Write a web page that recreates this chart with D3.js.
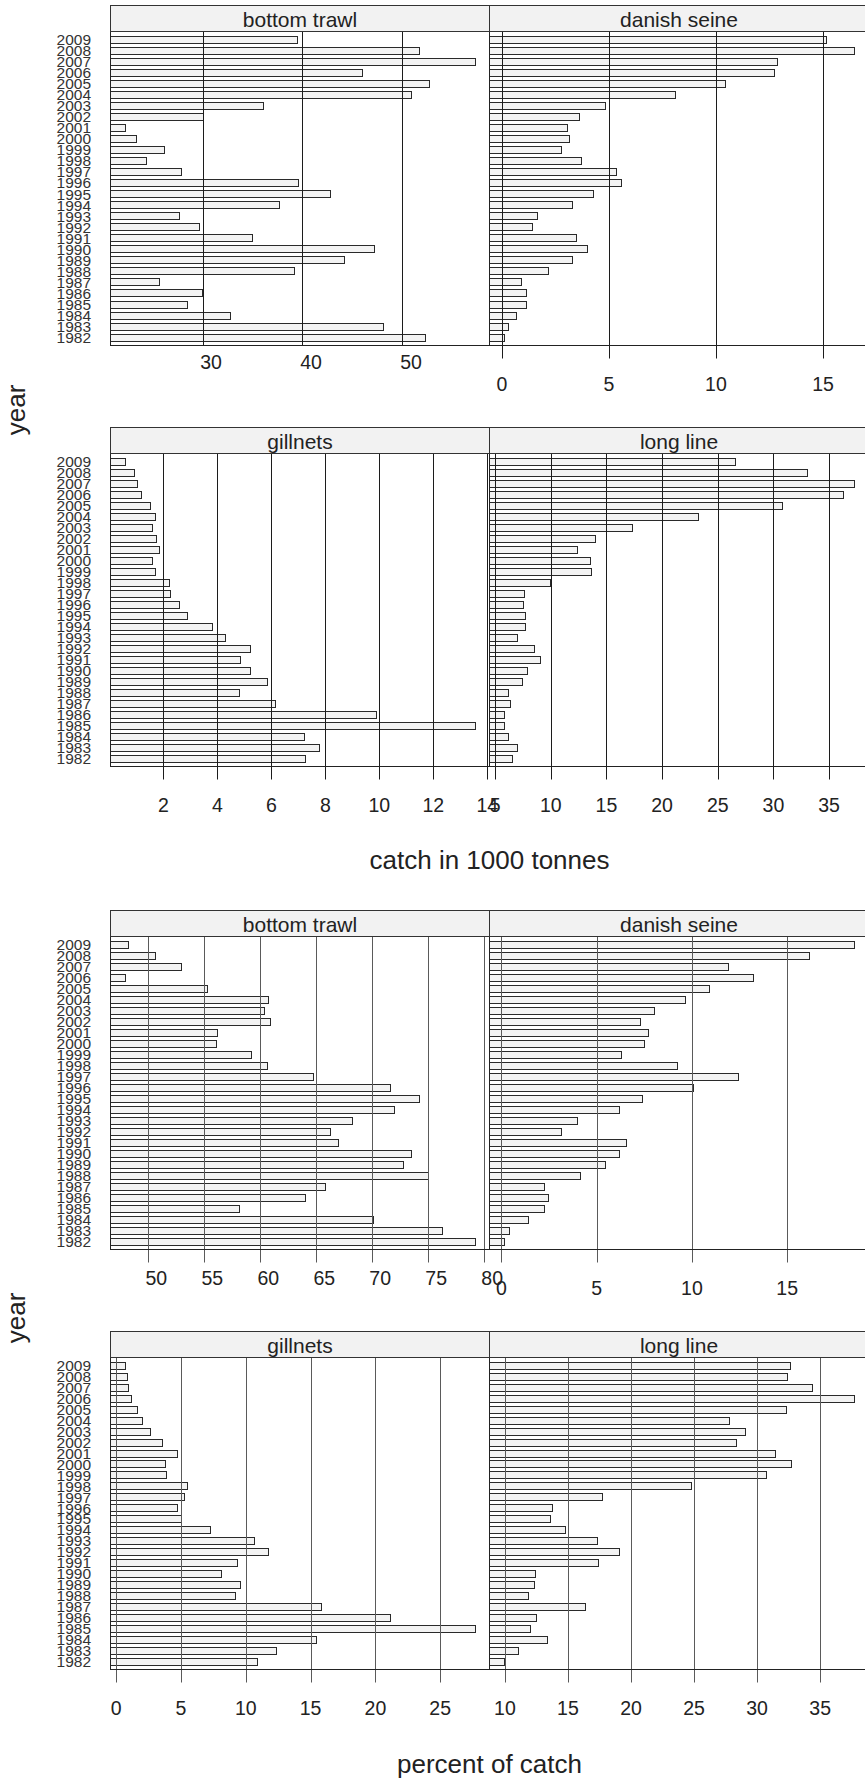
<!DOCTYPE html>
<html>
<head>
<meta charset="utf-8">
<script src="https://cdn.jsdelivr.net/npm/d3@7"></script>
<style>
  html, body { margin: 0; background: #fff; }
  svg { display: block; font-family: "Liberation Sans", Arial, Helvetica, sans-serif; }
</style>
</head>
<body>
<svg id="chart" width="865" height="1781"></svg>
<script>
// Years, listed top to bottom as they appear in every panel
const years = ["2009","2008","2007","2006","2005","2004","2003","2002","2001","2000",
               "1999","1998","1997","1996","1995","1994","1993","1992","1991","1990",
               "1989","1988","1987","1986","1985","1984","1983","1982"];

const gears = ["bottom trawl", "danish seine", "gillnets", "long line"];

// Catch in 1000 tonnes by gear (2009 -> 1982)
const catchBottomTrawl = [39.4,51.7,57.3,46.0,52.7,50.9,36.0,30.0,22.2,23.3,26.1,24.3,27.8,39.5,42.8,37.6,27.6,29.6,34.9,47.2,44.2,39.1,25.6,29.9,28.4,32.7,48.1,52.3];
const catchDanishSeine = [15.13,16.47,12.87,12.69,10.43,8.07,4.82,3.62,3.06,3.14,2.78,3.72,5.32,5.55,4.26,3.27,1.62,1.40,3.45,3.96,3.28,2.16,0.89,1.14,1.14,0.65,0.28,0.08];
const catchGillnets    = [0.56,0.90,1.04,1.17,1.52,1.70,1.58,1.74,1.85,1.58,1.70,2.19,2.26,2.59,2.87,3.81,4.30,5.22,4.85,5.19,5.85,4.80,6.15,9.88,13.56,7.19,7.78,7.26];
const catchLongLine    = [26.58,33.06,37.28,36.29,30.79,23.21,17.29,13.98,12.39,13.50,13.59,9.91,7.58,7.49,7.73,7.67,6.95,8.48,9.01,7.88,7.46,6.15,6.33,5.76,5.82,6.15,6.95,6.51];

// Percent of total catch by gear (2009 -> 1982)
const pctBottomTrawl = [48.18,50.59,52.89,47.88,55.24,60.69,60.33,60.87,56.16,56.07,59.20,60.60,64.68,71.59,74.22,71.92,68.20,66.23,66.92,73.47,72.76,74.96,65.76,64.03,58.10,70.11,76.27,79.22];
const pctDanishSeine = [18.53,16.12,11.88,13.23,10.90,9.62,8.01,7.29,7.67,7.46,6.27,9.22,12.40,10.04,7.38,6.18,3.96,3.10,6.52,6.15,5.41,4.10,2.23,2.42,2.26,1.37,0.39,0.11];
const pctGillnets    = [0.64,0.85,0.93,1.13,1.57,2.01,2.62,3.55,4.68,3.78,3.83,5.45,5.22,4.68,4.96,7.22,10.65,11.70,9.31,8.07,9.54,9.15,15.79,21.11,27.72,15.38,12.31,10.90];
const pctLongLine    = [32.62,32.40,34.37,37.72,32.27,27.75,29.05,28.30,31.45,32.70,30.74,24.73,17.67,13.73,13.54,14.76,17.33,19.02,17.40,12.35,12.27,11.85,16.32,12.43,12.01,13.33,11.06,9.89];

// Tick values per panel
const ticksCatch = [[30,40,50], [0,5,10,15], [2,4,6,8,10,12,14], [5,10,15,20,25,30,35]];
const ticksPct   = [[50,55,60,65,70,75,80], [0,5,10,15], [0,5,10,15,20,25], [10,15,20,25,30,35]];

// Axis titles
const xTitles = ["catch in 1000 tonnes", "percent of catch"];
const yTitle = "year";

// ---- layout ----
const svg = d3.select("#chart");
const colX = [[110.5, 489.5], [489.5, 868.5]];
const rowTop = [5.5, 427.5, 910.5, 1331.5];
const rowBottom = [345.5, 766.5, 1249.5, 1669.5];
const stripH = 26;
const ink = "#222";

function drawPanel(values, ticks, gear, row, col, opts) {
  const [x0, x1] = colX[col];
  const top = rowTop[row], plotTop = top + stripH, bottom = rowBottom[row];

  // lattice-style range: data extent widened by 4% on each side
  const [lo, hi] = d3.extent(values);
  const pad = (hi - lo) * 0.04;
  const x = d3.scaleLinear().domain([lo - pad, hi + pad]).range([x0, x1]);
  const y = d3.scaleBand().domain(years).range([plotTop, bottom])
    .paddingInner(0.32).paddingOuter(0.4);
  const gx = v => Math.round(x(v)) + 0.5;

  const g = svg.append("g").attr("class", "panel");

  // bars start at the panel's left edge
  const rows = values.map((v, i) => ({ year: years[i], v }));
  g.selectAll("rect.bar").data(rows).join("rect")
    .attr("class", "bar")
    .attr("x", x0)
    .attr("y", d => Math.round(y(d.year)) + 0.5)
    .attr("width", d => gx(d.v) - x0)
    .attr("height", Math.round(y.bandwidth()))
    .attr("fill", "#f3f3f3")
    .attr("stroke", "#2a2a2a")
    .attr("stroke-width", 1);

  // vertical reference lines at the ticks, drawn over the bars
  g.selectAll("line.grid").data(ticks).join("line")
    .attr("class", "grid")
    .attr("x1", gx).attr("x2", gx)
    .attr("y1", plotTop).attr("y2", bottom + opts.tickLen)
    .attr("stroke", opts.gridColor)
    .attr("stroke-width", 1);

  // panel frame
  g.append("rect")
    .attr("x", x0).attr("y", plotTop)
    .attr("width", x1 - x0).attr("height", bottom - plotTop)
    .attr("fill", "none").attr("stroke", ink).attr("stroke-width", 1);

  // strip with the gear name
  g.append("rect")
    .attr("x", x0).attr("y", top)
    .attr("width", x1 - x0).attr("height", stripH)
    .attr("fill", "#f2f2f2").attr("stroke", "#333").attr("stroke-width", 1);
  g.append("text")
    .attr("x", (x0 + x1) / 2).attr("y", top + stripH - 5)
    .attr("text-anchor", "middle")
    .attr("font-size", 21).attr("fill", ink)
    .text(gear);

  // tick labels
  g.selectAll("text.tick").data(ticks).join("text")
    .attr("class", "tick")
    .attr("x", d => x(d) + opts.labelDx)
    .attr("y", bottom + opts.labelDy)
    .attr("text-anchor", "middle")
    .attr("font-size", 19.5).attr("fill", ink)
    .text(d => d);

  // year labels on the left column
  if (col === 0) {
    g.selectAll("text.year").data(years).join("text")
      .attr("class", "year")
      .attr("x", 91)
      .attr("y", d => y(d) + y.bandwidth() / 2 + 5.5)
      .attr("text-anchor", "end")
      .attr("font-size", 15.5).attr("fill", "#333")
      .text(d => d);
  }
}

const normal = { labelDx: 0, labelDy: 45.5, tickLen: 13 };

// catch in 1000 tonnes
const catchSeries = [catchBottomTrawl, catchDanishSeine, catchGillnets, catchLongLine];
catchSeries.forEach((vals, i) => {
  const o = Object.assign({}, normal, { gridColor: "#1c1c1c" });
  if (i === 0) Object.assign(o, { labelDx: 8.5, labelDy: 23, tickLen: 0 });
  drawPanel(vals, ticksCatch[i], gears[i], Math.floor(i / 2), i % 2, o);
});

// percent of catch
const pctSeries = [pctBottomTrawl, pctDanishSeine, pctGillnets, pctLongLine];
pctSeries.forEach((vals, i) => {
  const o = Object.assign({}, normal, { gridColor: "#5a5a5a" });
  if (i === 0) Object.assign(o, { labelDx: 8, labelDy: 35 });
  drawPanel(vals, ticksPct[i], gears[i], 2 + Math.floor(i / 2), i % 2, o);
});

// axis titles
[[869, 0], [1773, 1]].forEach(([yy, k]) => {
  svg.append("text")
    .attr("x", 489.5).attr("y", yy)
    .attr("text-anchor", "middle")
    .attr("font-size", 26).attr("fill", ink)
    .text(xTitles[k]);
});
[410, 1318].forEach(cy => {
  svg.append("text")
    .attr("transform", `translate(25,${cy}) rotate(-90)`)
    .attr("text-anchor", "middle")
    .attr("font-size", 26).attr("fill", ink)
    .text(yTitle);
});
</script>
</body>
</html>
